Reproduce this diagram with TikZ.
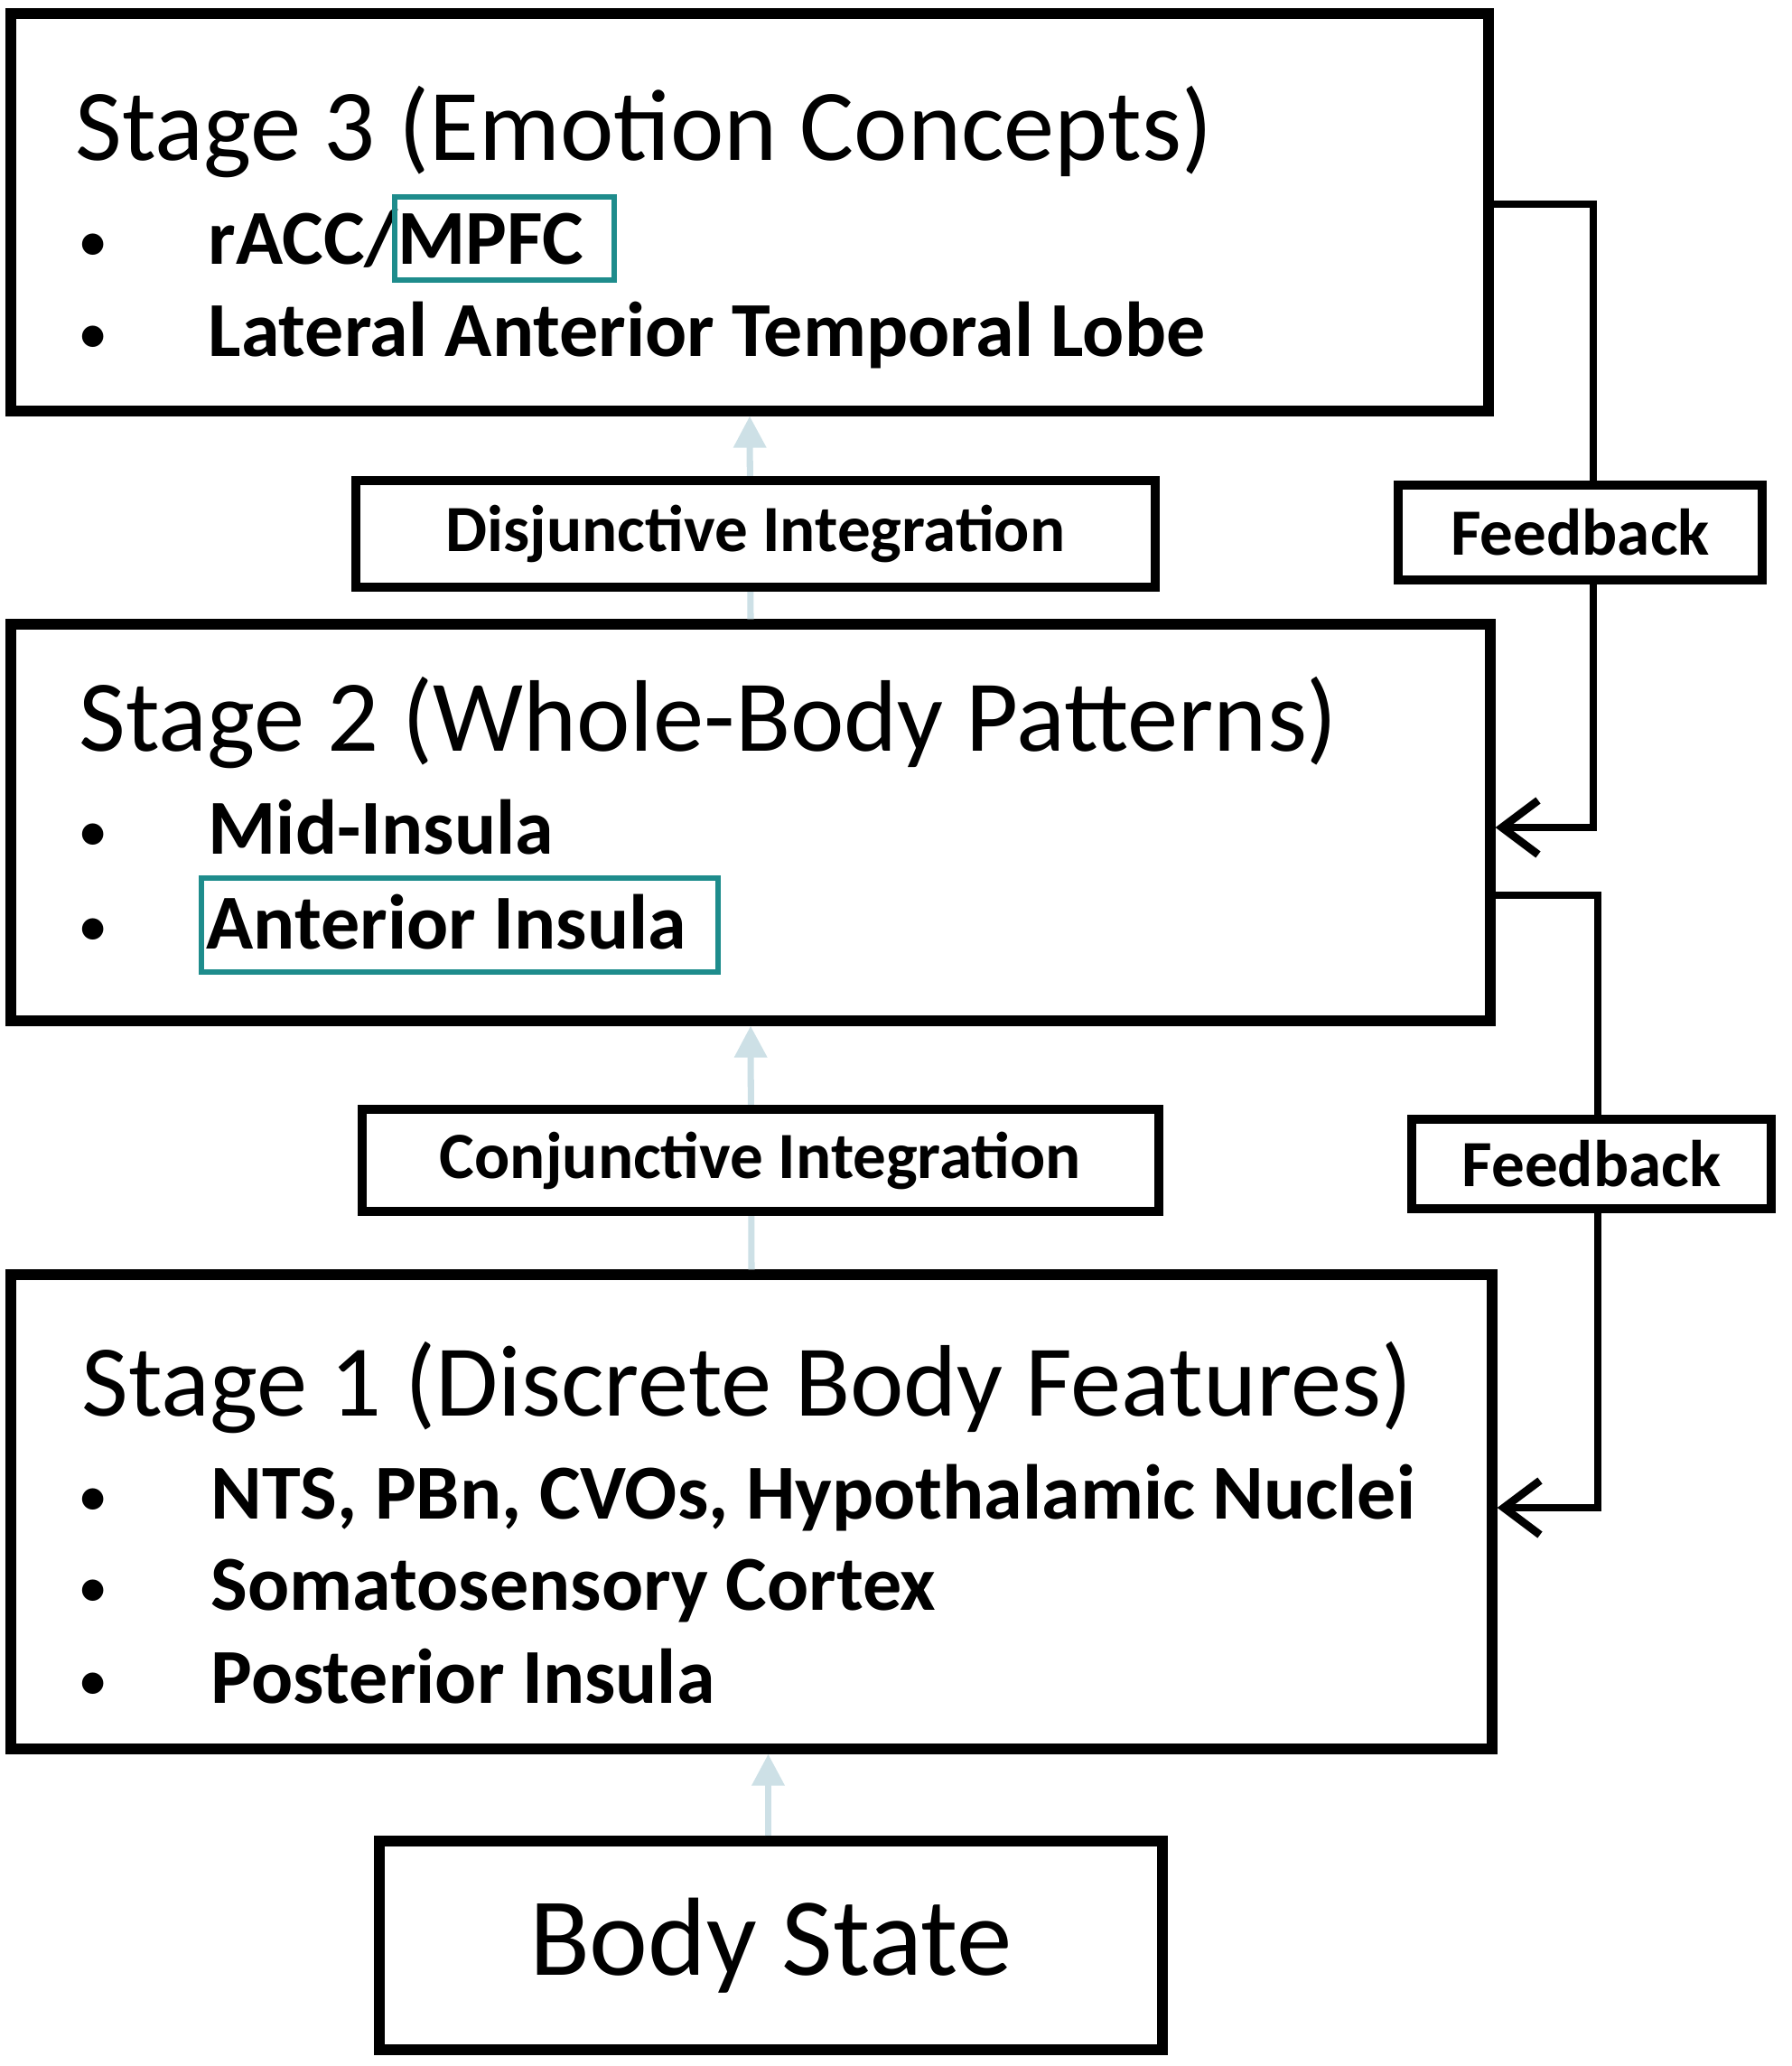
\documentclass[tikz,border=0pt]{standalone}
\usepackage{fontspec}
\setmainfont{Carlito}
\usetikzlibrary{arrows.meta}
\definecolor{hlteal}{RGB}{30,140,140}
\definecolor{faintblue}{RGB}{205,224,230}
\tikzset{
  stagebox/.style={draw=black, line width=3.2pt, fill=white, rectangle, inner sep=0pt},
  labelbox/.style={draw=black, line width=2.8pt, fill=white, rectangle, inner sep=0pt,
    font=\fontsize{20.8}{24}\selectfont\bfseries},
  headtxt/.style={anchor=base west, inner sep=0pt, font=\fontsize{32}{38}\selectfont},
  itemtxt/.style={anchor=base west, inner sep=0pt, font=\fontsize{24.5}{29}\selectfont\bfseries},
  bul/.style={anchor=base west, inner sep=0pt, font=\fontsize{19}{23}\selectfont},
  fbarrow/.style={draw=black, line width=2.5pt, -{Straight Barb[length=0.4cm,width=0.6cm,line width=2.5pt]}},
  faintarrow/.style={draw=faintblue, line width=2pt, -{Triangle[length=0.35cm,width=0.35cm]}},
  hlbox/.style={draw=hlteal, line width=1.8pt}
}
\begin{document}
\begin{tikzpicture}
\useasboundingbox (0,0) rectangle (19.83,-22.87);

% stage boxes
\node[stagebox, minimum width=16.36cm, minimum height=4.40cm] (s3) at (8.30,-2.35) {};
\node[stagebox, minimum width=16.38cm, minimum height=4.39cm] (s2) at (8.31,-9.105) {};
\node[stagebox, minimum width=16.40cm, minimum height=5.25cm] (s1) at (8.32,-16.735) {};
\node[stagebox, minimum width=8.67cm, minimum height=2.31cm, font=\fontsize{35}{42}\selectfont] (body) at (8.535,-21.535) {Body State};

% stage 3 text
\node[headtxt] (h3) at (0.83,-1.78) {Stage 3 (Emotion Concepts)};
\node[bul] (b31) at (0.86,-2.90) {\textbullet};
\node[itemtxt] (i31) at (2.30,-2.93) {rACC/MPFC};
\node[bul] (b32) at (0.86,-3.92) {\textbullet};
\node[itemtxt] (i32) at (2.30,-3.95) {Lateral Anterior Temporal Lobe};
\draw[hlbox] (4.37,-2.18) rectangle (6.80,-3.10);

% stage 2 text
\node[headtxt] (h2) at (0.87,-8.31) {Stage 2 (Whole-Body Patterns)};
\node[bul] (b21) at (0.86,-9.42) {\textbullet};
\node[itemtxt] (i21) at (2.30,-9.45) {Mid-Insula};
\node[bul] (b22) at (0.86,-10.47) {\textbullet};
\node[itemtxt] (i22) at (2.28,-10.50) {Anterior Insula};
\draw[hlbox] (2.23,-9.72) rectangle (7.95,-10.76);

% stage 1 text
\node[headtxt] (h1) at (0.90,-15.67) {Stage 1 (Discrete Body Features)};
\node[bul] (b11) at (0.86,-16.78) {\textbullet};
\node[itemtxt] (i11) at (2.33,-16.81) {NTS, PBn, CVOs, Hypothalamic Nuclei};
\node[bul] (b12) at (0.86,-17.79) {\textbullet};
\node[itemtxt] (i12) at (2.33,-17.82) {Somatosensory Cortex};
\node[bul] (b13) at (0.86,-18.82) {\textbullet};
\node[itemtxt] (i13) at (2.33,-18.85) {Posterior Insula};

% faint upward arrows
\draw[faintarrow] (s2.north) -- (s3.south);
\draw[faintarrow] (s1.north) -- (s2.south);
\draw[faintarrow] ([xshift=-0.03cm]body.north) -- ([xshift=-0.03cm]body.north |- s1.south);

% feedback connectors
\coordinate (f1a) at (17.64,-2.26);
\coordinate (f1b) at (17.64,-9.16);
\draw[fbarrow] (s3.east |- f1a) -- (f1a) -- (f1b) -- (s2.east |- f1b);
\coordinate (f2a) at (17.69,-9.91);
\coordinate (f2b) at (17.69,-16.69);
\draw[fbarrow] (s2.east |- f2a) -- (f2a) -- (f2b) -- (s1.east |- f2b);

% label boxes (on top)
\node[labelbox, minimum width=8.85cm, minimum height=1.18cm] (dis) at (8.365,-5.91) {Disjunctive Integration};
\node[labelbox, minimum width=8.82cm, minimum height=1.13cm] (con) at (8.42,-12.845) {Conjunctive Integration};
\node[labelbox, minimum width=4.03cm, minimum height=1.05cm] (fb1) at (17.495,-5.895) {Feedback};
\node[labelbox, minimum width=3.98cm, minimum height=0.99cm] (fb2) at (17.62,-12.885) {Feedback};
\end{tikzpicture}
\end{document}
